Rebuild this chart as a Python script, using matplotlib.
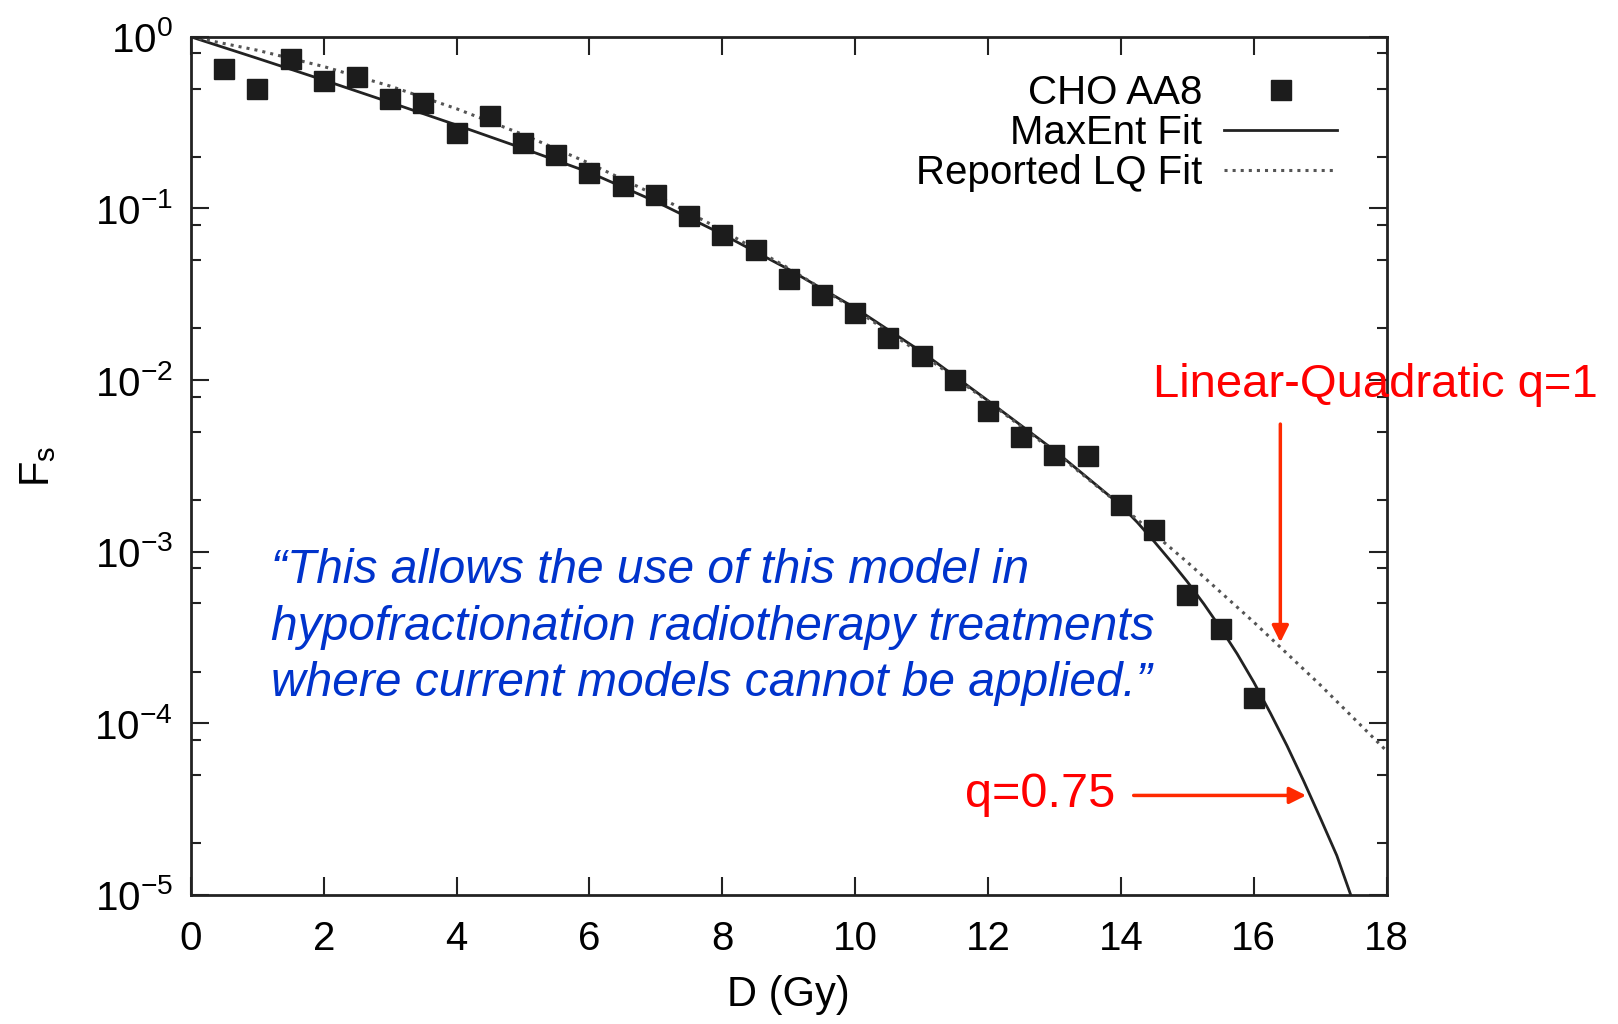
import matplotlib
matplotlib.use("Agg")
import matplotlib.pyplot as plt
from matplotlib.ticker import LogLocator, NullFormatter, MultipleLocator
import numpy as np

plt.rcParams['font.family'] = ['Liberation Sans', 'DejaVu Sans']
plt.rcParams['mathtext.fontset'] = 'custom'
plt.rcParams['mathtext.rm'] = 'Liberation Sans'
plt.rcParams['mathtext.it'] = 'Liberation Sans:italic'

# measured survival fraction, CHO AA8
dose = [0.5, 1.0, 1.5, 2.0, 2.5, 3.0, 3.5, 4.0, 4.5, 5.0, 5.5, 6.0, 6.5, 7.0, 7.5, 8.0,
        8.5, 9.0, 9.5, 10.0, 10.5, 11.0, 11.5, 12.0, 12.5, 13.0, 13.5, 14.0, 14.5,
        15.0, 15.5, 16.0]
surv = [0.65, 0.50, 0.74, 0.55, 0.58, 0.435, 0.41, 0.275, 0.344, 0.24, 0.204, 0.16,
        0.136, 0.12, 0.091, 0.070, 0.0576, 0.0386, 0.0313, 0.0245, 0.0175, 0.0138,
        0.0100, 0.00664, 0.00469, 0.00366, 0.0036, 0.00186, 0.00133, 0.000556,
        0.000357, 0.000141]

# MaxEnt fit (q=0.75), log10 values
maxent_d = [0, 1, 2, 3, 4, 5, 6, 7, 8, 9, 10, 11, 12, 13, 14, 14.25, 14.5, 14.75,
            15, 15.25, 15.5, 15.75, 16, 16.25, 16.5, 16.75, 17, 17.25, 17.46]
maxent_log = [0, -0.125, -0.252, -0.382, -0.514, -0.650, -0.790, -0.960, -1.150,
              -1.355, -1.580, -1.835, -2.120, -2.410, -2.730, -2.830, -2.940, -3.055,
              -3.175, -3.305, -3.445, -3.595, -3.760, -3.940, -4.130, -4.335, -4.550,
              -4.770, -5.0]

# reported LQ fit (q=1), log10 values
lq_d = [0, 1, 2, 3, 4, 5, 6, 7, 8, 9, 10, 11, 12, 13, 14, 15, 16, 17, 18]
lq_log = [0, -0.078, -0.173, -0.287, -0.419, -0.569, -0.737, -0.923, -1.127, -1.349,
          -1.589, -1.848, -2.124, -2.418, -2.731, -3.061, -3.41, -3.776, -4.161]

fig = plt.figure(figsize=(16.18, 10.24), dpi=100)
ax = fig.add_axes([0.118, 0.126, 0.739, 0.838])

ax.plot(dose, surv, 's', color='#1c1c1c', markersize=15, label='CHO AA8', zorder=3)
ax.plot(maxent_d, 10 ** np.array(maxent_log), '-', color='#222222', lw=2,
        label='MaxEnt Fit')
ax.plot(lq_d, 10 ** np.array(lq_log), ':', color='#555555', lw=2.2,
        label='Reported LQ Fit')

ax.set_yscale('log')
ax.set_xlim(0, 18)
ax.set_ylim(1e-5, 1)
ax.xaxis.set_major_locator(MultipleLocator(2))
ax.yaxis.set_major_locator(LogLocator(base=10, numticks=10))
ax.yaxis.set_minor_locator(LogLocator(base=10, subs=[2, 5, 8], numticks=10))
ax.yaxis.set_minor_formatter(NullFormatter())
ax.tick_params(which='both', direction='in', top=True, right=True, width=1.5,
               labelsize=29, color='#222222')
ax.tick_params(which='major', length=13)
ax.tick_params(which='minor', length=7)
ax.tick_params(axis='x', pad=18)
ax.tick_params(axis='y', pad=13)
for s in ax.spines.values():
    s.set_linewidth(2)
    s.set_color('#222222')

ax.set_xlabel('D (Gy)', fontsize=30, labelpad=12)
ax.set_ylabel('F$_{\\mathregular{s}}$', fontsize=30, labelpad=26)

ax.legend(loc='upper right', bbox_to_anchor=(0.972, 0.975), frameon=False,
          markerfirst=False, fontsize=29, handlelength=2.8, handletextpad=0.55,
          labelspacing=0.05, borderaxespad=0)

ax.text(1.2, 10 ** -3.44,
        '\u201cThis allows the use of this model in\n'
        'hypofractionation radiotherapy treatments\n'
        'where current models cannot be applied.\u201d',
        color='#0033cc', style='italic', fontsize=34.5, va='center', ha='left',
        linespacing=1.33)

ax.text(14.49, 10 ** -2.03, 'Linear-Quadratic q=1', color='#ff0000', fontsize=34,
        va='center', ha='left', clip_on=False)
ax.annotate('', xy=(16.4, 10 ** -3.544), xytext=(16.4, 10 ** -2.24),
            arrowprops=dict(arrowstyle='-|>', color='#ff2a00', lw=2.5,
                            mutation_scale=25), annotation_clip=False)

ax.text(13.91, 10 ** -4.416, 'q=0.75', color='#ff0000', fontsize=35,
        va='center', ha='right')
ax.annotate('', xy=(16.83, 10 ** -4.42), xytext=(14.15, 10 ** -4.42),
            arrowprops=dict(arrowstyle='-|>', color='#ff2a00', lw=2.5,
                            mutation_scale=25))

fig.savefig('out.png', dpi=100)
